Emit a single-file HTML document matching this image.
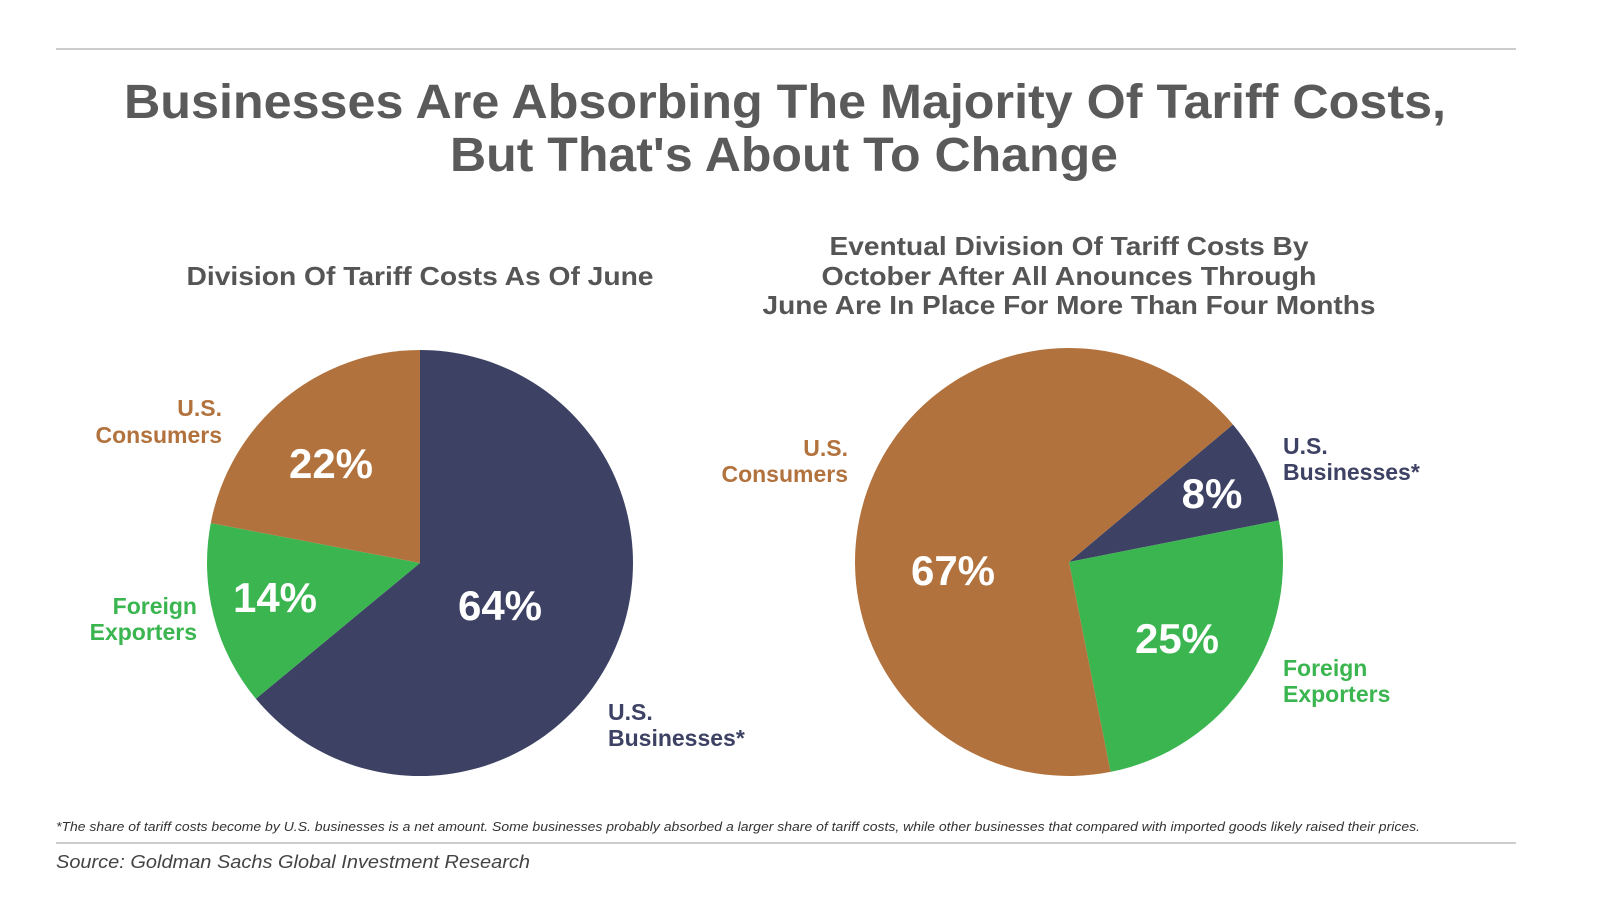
<!DOCTYPE html>
<html><head><meta charset="utf-8"><style>
body{margin:0;background:#fff;width:1600px;height:900px;overflow:hidden;font-family:"Liberation Sans",sans-serif}
</style></head><body>
<svg width="1600" height="900" font-family="Liberation Sans, sans-serif">
<line x1="56" y1="49" x2="1516" y2="49" stroke="#bbb" stroke-width="1.5"/>
<line x1="56" y1="843" x2="1516" y2="843" stroke="#bbb" stroke-width="1.5"/>
<g fill="#5a5a5a" font-weight="bold" font-size="48" text-anchor="middle">
<text x="785" y="118" textLength="1322" lengthAdjust="spacingAndGlyphs">Businesses Are Absorbing The Majority Of Tariff Costs,</text>
<text x="784" y="171" textLength="668" lengthAdjust="spacingAndGlyphs">But That's About To Change</text>
</g>
<text x="420" y="285" fill="#555" font-weight="bold" font-size="26" text-anchor="middle" textLength="467" lengthAdjust="spacingAndGlyphs">Division Of Tariff Costs As Of June</text>
<g fill="#555" font-weight="bold" font-size="26" text-anchor="middle">
<text x="1069" y="255" textLength="479" lengthAdjust="spacingAndGlyphs">Eventual Division Of Tariff Costs By</text>
<text x="1069" y="285" textLength="495" lengthAdjust="spacingAndGlyphs">October After All Anounces Through</text>
<text x="1069" y="314" textLength="613" lengthAdjust="spacingAndGlyphs">June Are In Place For More Than Four Months</text>
</g>
<g id="pies"></g>
<g font-weight="bold" font-size="23">
<text x="222" y="416" fill="#b2723d" text-anchor="end">U.S.</text>
<text x="222" y="443" fill="#b2723d" text-anchor="end">Consumers</text>
<text x="197" y="614" fill="#3ab54f" text-anchor="end">Foreign</text>
<text x="197" y="640" fill="#3ab54f" text-anchor="end">Exporters</text>
<text x="608" y="720" fill="#3d4264">U.S.</text>
<text x="608" y="746" fill="#3d4264">Businesses*</text>
<text x="848" y="456" fill="#b2723d" text-anchor="end">U.S.</text>
<text x="848" y="482" fill="#b2723d" text-anchor="end">Consumers</text>
<text x="1283" y="454" fill="#3d4264">U.S.</text>
<text x="1283" y="480" fill="#3d4264">Businesses*</text>
<text x="1283" y="676" fill="#3ab54f">Foreign</text>
<text x="1283" y="702" fill="#3ab54f">Exporters</text>
</g>
<text x="56" y="831" font-size="12.5" font-style="italic" fill="#333" textLength="1364" lengthAdjust="spacingAndGlyphs">*The share of tariff costs become by U.S. businesses is a net amount. Some businesses probably absorbed a larger share of tariff costs, while other businesses that compared with imported goods likely raised their prices.</text>
<text x="56" y="868" font-size="18" font-style="italic" fill="#444" textLength="474" lengthAdjust="spacingAndGlyphs">Source: Goldman Sachs Global Investment Research</text>
</svg>
<script>
const categories = ["U.S. Businesses","Foreign Exporters","U.S. Consumers"];
const colors = ["#3d4264","#3ab54f","#b2723d"];
const juneValues = [64,14,22];
const octoberValues = [8,25,67];
const pies=[
 {vals:juneValues,cx:420,cy:563,r:213,start:0,name:"june",lbl:[[500,620],[275,612],[331,478]]},
 {vals:octoberValues,cx:1069,cy:562,r:214,start:50,name:"october",lbl:[[1212,508],[1177,653],[953,585]]}
];
const g=document.getElementById('pies');
const NS="http://www.w3.org/2000/svg";
function pt(cx,cy,r,a){const t=a*Math.PI/180;return [cx+r*Math.sin(t),cy-r*Math.cos(t)];}
pies.forEach(p=>{
 const tot=p.vals.reduce((a,b)=>a+b,0);let a=p.start;
 p.vals.forEach((v,i)=>{
  const sweep=v/tot*360,a2=a+sweep;
  const s=pt(p.cx,p.cy,p.r,a),e=pt(p.cx,p.cy,p.r,a2);
  const path=document.createElementNS(NS,'path');
  path.setAttribute('d',`M${p.cx},${p.cy}L${s[0]},${s[1]}A${p.r},${p.r} 0 ${sweep>180?1:0} 1 ${e[0]},${e[1]}Z`);
  path.setAttribute('fill',colors[i]);
  
  
  g.appendChild(path);
  a=a2;
 });
 p.vals.forEach((v,i)=>{
  const t=document.createElementNS(NS,'text');
  t.setAttribute('x',p.lbl[i][0]);t.setAttribute('y',p.lbl[i][1]);
  t.setAttribute('fill','#fff');t.setAttribute('font-size','42');t.setAttribute('font-weight','bold');
  t.setAttribute('text-anchor','middle');
  
  
  t.textContent=v+'%';g.appendChild(t);
 });
});
</script>
</body></html>
